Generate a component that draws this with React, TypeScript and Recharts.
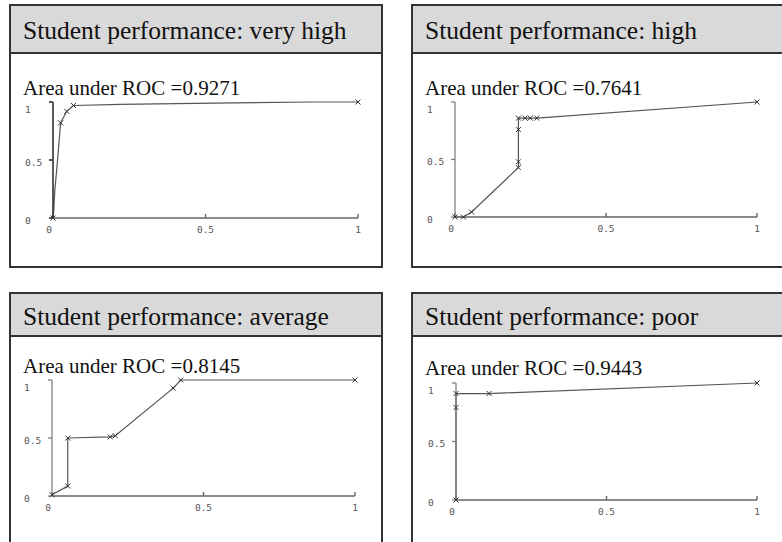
import { LineChart, Line, XAxis, YAxis } from 'recharts';

const titles = [
  'Student performance: very high',
  'Student performance: high',
  'Student performance: average',
  'Student performance: poor',
];
const aucValues = ['0.9271', '0.7641', '0.8145', '0.9443'];
const axisTicks = [0, 0.5, 1];

// ROC points (false positive rate / true positive rate)
// marks: 1 where the picture shows an "x" marker on the vertex
const veryHighFpr = [0, 0.002, 0.006, 0.014, 0.025, 0.045, 0.067, 0.22, 0.53, 0.85, 1];
const veryHighTpr = [0, 0.05, 0.24, 0.47, 0.82, 0.92, 0.97, 0.98, 0.99, 1, 1];
const veryHighMarks = [1, 0, 0, 0, 1, 1, 1, 0, 0, 0, 1];

const highFpr = [0, 0.028, 0.055, 0.21, 0.21, 0.21, 0.21, 0.232, 0.249, 0.271, 1];
const highTpr = [0, 0, 0.043, 0.43, 0.48, 0.76, 0.86, 0.86, 0.86, 0.86, 1];
const highMarks = [1, 1, 1, 1, 1, 1, 1, 1, 1, 1, 1];

const averageFpr = [0, 0.052, 0.052, 0.192, 0.209, 0.4, 0.425, 1];
const averageTpr = [0.01, 0.086, 0.5, 0.51, 0.52, 0.93, 1, 1];
const averageMarks = [1, 1, 1, 1, 1, 1, 1, 1];

const poorFpr = [0, 0, 0, 0.11, 1];
const poorTpr = [0, 0.79, 0.91, 0.91, 1];
const poorMarks = [1, 1, 1, 1, 1];

const toRows = (fpr: number[], tpr: number[], marks: number[]) =>
  fpr.map((x, i) => ({ fpr: x, tpr: tpr[i], mark: marks[i] }));

const panels = [
  { title: titles[0], auc: aucValues[0], data: toRows(veryHighFpr, veryHighTpr, veryHighMarks), box: [10, 5, 372, 262], head: 48, titleY: 39, aucY: 95, plot: [53, 102, 305, 116], darkY: true },
  { title: titles[1], auc: aucValues[1], data: toRows(highFpr, highTpr, highMarks), box: [412, 5, 380, 262], head: 48, titleY: 39, aucY: 95, plot: [455, 102, 302, 115], darkY: false },
  { title: titles[2], auc: aucValues[2], data: toRows(averageFpr, averageTpr, averageMarks), box: [10, 293, 372, 300], head: 43, titleY: 325, aucY: 373, plot: [52, 380, 303, 116], darkY: false },
  { title: titles[3], auc: aucValues[3], data: toRows(poorFpr, poorTpr, poorMarks), box: [412, 293, 380, 300], head: 43, titleY: 325, aucY: 375, plot: [456, 383, 301, 117], darkY: false },
];

const serif = '"Liberation Serif", "Times New Roman", serif';
const mono = '"DejaVu Sans Mono", monospace';

const XMark = (props: any) => {
  const { cx, cy, index, payload } = props;
  if (cx == null || cy == null || !payload || !payload.mark) return <g key={`m${index}`} />;
  const s = 2.5;
  return (
    <path
      key={`m${index}`}
      d={`M${cx - s},${cy - s}L${cx + s},${cy + s}M${cx - s},${cy + s}L${cx + s},${cy - s}`}
      stroke="#333"
      strokeWidth={1}
      fill="none"
    />
  );
};

const YTick = (props: any) => {
  const { x, y, payload } = props;
  return (
    <text x={x - 22} y={y + 5.5} fontSize={9.5} fontFamily={mono} fill="#555" textAnchor="start">
      {String(payload.value)}
    </text>
  );
};

const XTick = (props: any) => {
  const { x, y, payload } = props;
  return (
    <text x={payload.value === 0 ? x - 4 : x} y={y + 18.5} fontSize={9.5} fontFamily={mono} fill="#555" textAnchor="middle">
      {String(payload.value)}
    </text>
  );
};

function RocPanel({ p }: { p: (typeof panels)[number] }) {
  const [px, py, pw, ph] = p.plot;
  const yW = 40;
  const top = 4;
  const right = 10;
  const xH = 25;
  return (
    <div style={{ position: 'absolute', left: px - yW, top: py - top }}>
      <LineChart width={pw + yW + right} height={ph + top + xH} data={p.data} margin={{ top, right, left: 0, bottom: 0 }}>
        <XAxis
          dataKey="fpr"
          type="number"
          domain={[0, 1]}
          ticks={axisTicks}
          height={xH}
          tickSize={-4}
          tickMargin={0}
          tick={<XTick />}
          stroke="#666"
          strokeWidth={1.4}
        />
        <YAxis
          type="number"
          domain={[0, 1]}
          ticks={axisTicks}
          width={yW}
          tickSize={4}
          tickMargin={2}
          tick={<YTick />}
          stroke={p.darkY ? '#333' : '#777'}
          strokeWidth={p.darkY ? 1.6 : 1.2}
        />
        <Line
          dataKey="tpr"
          type="linear"
          stroke="#555"
          strokeWidth={1.2}
          dot={XMark}
          activeDot={false}
          isAnimationActive={false}
        />
      </LineChart>
    </div>
  );
}

export default function App() {
  return (
    <div style={{ position: 'fixed', left: 0, top: 0, width: 782, height: 542, background: '#fff', overflow: 'hidden' }}>
      <svg width={782} height={542} style={{ position: 'absolute', left: 0, top: 0 }}>
        {panels.map((p, i) => {
          const [bx, by, bw, bh] = p.box;
          return (
            <g key={i}>
              <rect x={bx} y={by} width={bw} height={bh} fill="#fff" stroke="#333" strokeWidth={2} />
              <rect x={bx} y={by} width={bw} height={p.head} fill="#d9d9d9" stroke="#333" strokeWidth={2} />
              <text x={bx + 13} y={p.titleY} fontSize={25.5} fontFamily={serif} fill="#111">
                {p.title}
              </text>
              <text x={bx + 13} y={p.aucY} fontSize={21} fontFamily={serif} fill="#111">
                {`Area under ROC =${p.auc}`}
              </text>
            </g>
          );
        })}
      </svg>
      {panels.map((p, i) => (
        <RocPanel key={i} p={p} />
      ))}
    </div>
  );
}
